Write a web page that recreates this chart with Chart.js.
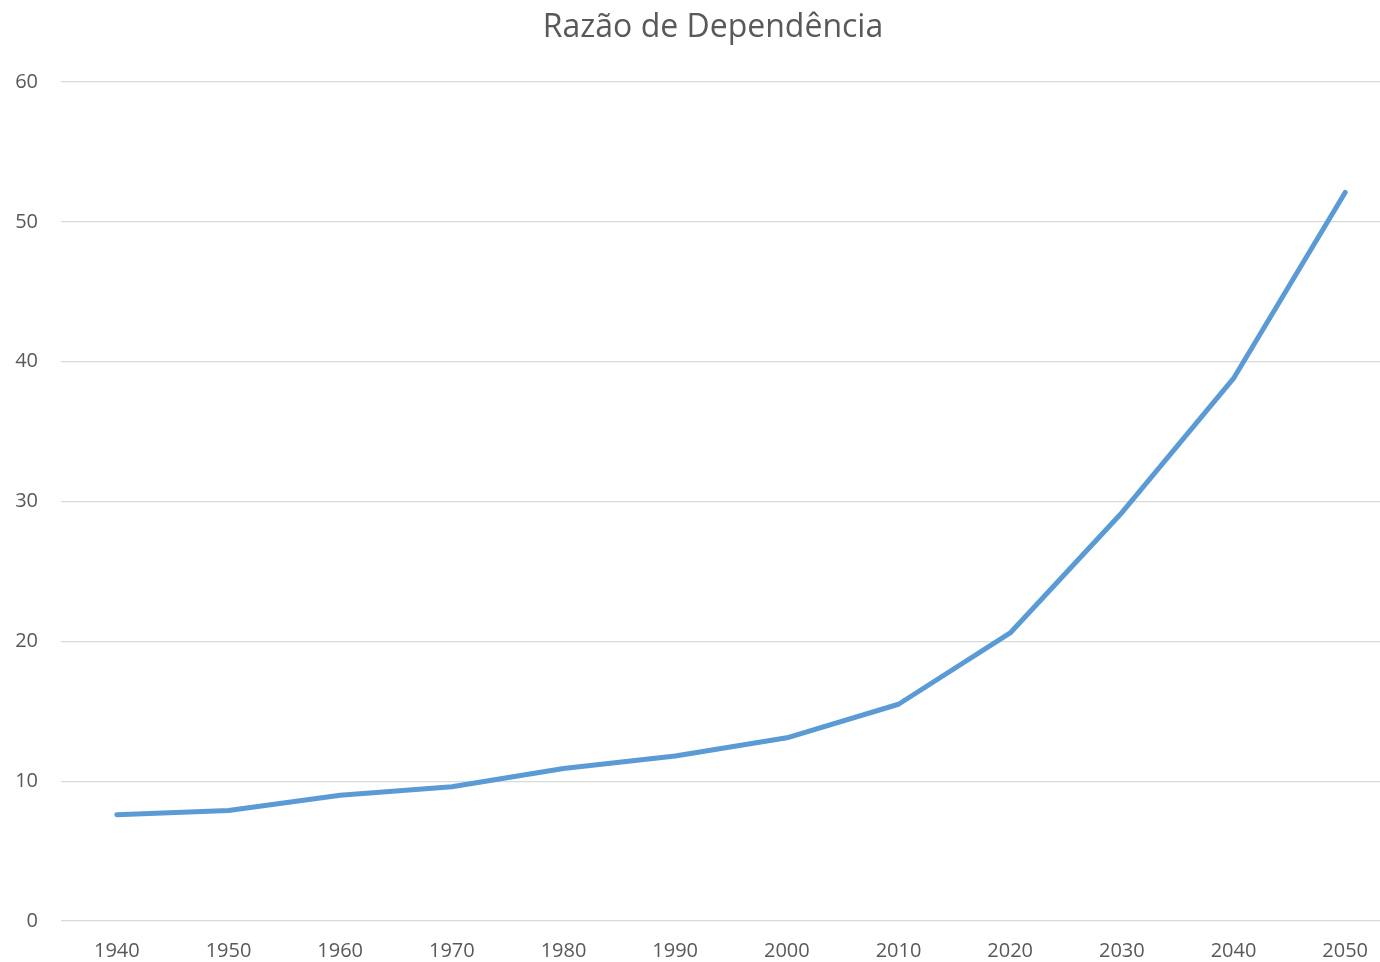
<!DOCTYPE html>
<html>
<head>
<meta charset="utf-8">
<script src="https://cdn.jsdelivr.net/npm/chart.js@4.4.0/dist/chart.umd.min.js"></script>
<style>
    html, body { margin: 0; padding: 0; background: #fff; overflow: hidden; }
    #wrap { width: 1401px; height: 962px; }
</style>
</head>
<body>
<div id="wrap"><canvas id="ratioChart"></canvas></div>
<script>
// dados
const years = ['1940', '1950', '1960', '1970', '1980', '1990', '2000', '2010', '2020', '2030', '2040', '2050'];
const ratioValues = [7.6, 7.9, 9.0, 9.6, 10.9, 11.8, 13.1, 15.5, 20.6, 29.2, 38.8, 52.1];
const yTicks = [0, 10, 20, 30, 40, 50, 60];
const chartTitle = 'Razão de Dependência';

const textColor = '#595959';
const gridColor = '#D9D9D9';
const fontFamily = '"Open Sans", "Noto Sans", sans-serif';

// título desenhado à mão, um pouco à direita do centro (como no Excel)
const titlePlugin = {
    id: 'excelTitle',
    afterDraw(chart) {
        const c = chart.ctx;
        c.save();
        c.font = '32px ' + fontFamily;
        c.fillStyle = textColor;
        c.textAlign = 'center';
        c.textBaseline = 'middle';
        c.fillText(chartTitle, 713, 28);
        c.restore();
    }
};

const ctx = document.getElementById('ratioChart').getContext('2d');

new Chart(ctx, {
    type: 'line',
    data: {
        labels: years,
        datasets: [{
            label: chartTitle,
            data: ratioValues,
            borderColor: '#5B9BD5',
            borderWidth: 5,
            borderCapStyle: 'round',
            borderJoinStyle: 'round',
            pointRadius: 0,
            tension: 0,
            fill: false
        }]
    },
    plugins: [titlePlugin],
    options: {
        responsive: true,
        maintainAspectRatio: false,
        animation: false,
        layout: { padding: { top: 82, left: 0, right: 0, bottom: 0 } },
        plugins: {
            legend: { display: false },
            tooltip: { enabled: false },
            title: { display: false }
        },
        scales: {
            x: {
                offset: true,
                afterFit: scale => { scale.height = 41; },
                grid: { display: false, drawTicks: false },
                border: { display: false },
                ticks: {
                    color: textColor,
                    font: { family: fontFamily, size: 20 },
                    padding: 18,
                    maxRotation: 0,
                    autoSkip: false
                }
            },
            y: {
                min: 0,
                max: 60,
                afterFit: scale => { scale.width = 61; },
                afterBuildTicks: scale => {
                    scale.ticks = yTicks.map(v => ({ value: v }));
                },
                grid: { color: gridColor, lineWidth: 1.3, drawTicks: false },
                border: { display: false },
                ticks: {
                    color: textColor,
                    font: { family: fontFamily, size: 20 },
                    padding: 23
                }
            }
        }
    }
});
</script>
</body>
</html>
